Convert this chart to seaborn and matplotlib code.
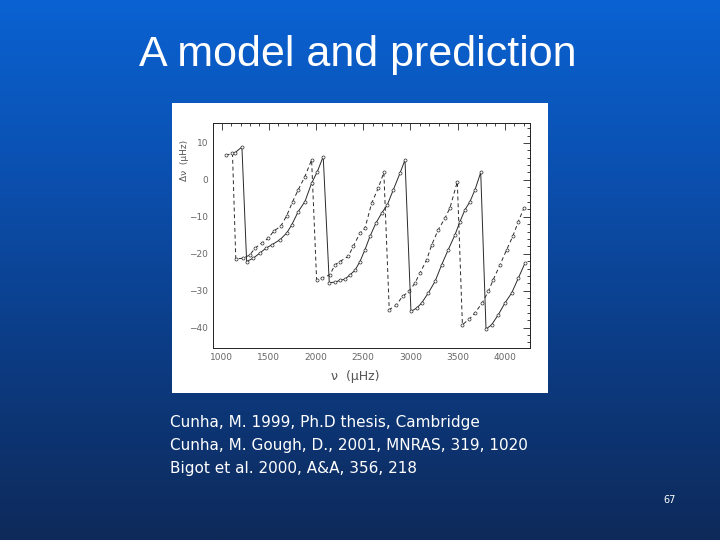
import numpy as np
import pandas as pd
import matplotlib
matplotlib.use("Agg")
import matplotlib.pyplot as plt
from matplotlib.colors import LinearSegmentedColormap
from matplotlib.ticker import MultipleLocator
import seaborn as sns

# frequencies (muHz) and frequency shifts (muHz)
freq_a = [1045, 1115, 1150, 1229, 1300, 1353, 1424, 1494, 1554, 1625, 1689, 1752, 1811, 1882, 1953,
          2006, 2059, 2147, 2200, 2253, 2341, 2394, 2465, 2518, 2589, 2659, 2718,
          2775, 2846, 2917, 2985, 3048, 3101, 3172, 3225, 3294, 3365, 3418, 3496,
          3550, 3623, 3683, 3760, 3824, 3877, 3948, 4019, 4083, 4142, 4202]
shift_a = [6.6, 7.2, -21.4, -21.2, -20.3, -18.5, -17.1, -15.8, -13.8, -12.6, -9.7, -5.9, -2.7, 0.9, 5.4,
           -27.0, -26.6, -25.7, -23.0, -22.1, -20.7, -18.0, -14.4, -13.1, -6.3, -2.2, 2.0,
           -35.1, -34.0, -31.5, -30.2, -27.9, -25.2, -21.6, -17.6, -13.5, -10.4, -7.6, -0.5,
           -39.2, -37.7, -36.0, -33.3, -30.2, -27.0, -23.0, -18.9, -15.3, -11.3, -7.6]

freq_b = [1144, 1215, 1265, 1335, 1406, 1469, 1530, 1618, 1689, 1742, 1811, 1882, 1953, 2013, 2076,
          2140, 2200, 2253, 2306, 2359, 2412, 2465, 2518, 2571, 2634, 2695, 2754, 2818, 2889, 2942,
          3005, 3066, 3119, 3189, 3260, 3330, 3400, 3471, 3524, 3577, 3630, 3683, 3744,
          3800, 3860, 3930, 4001, 4072, 4142, 4213]
shift_b = [7.4, 8.9, -22.1, -21.2, -19.8, -18.5, -17.6, -16.2, -14.4, -12.2, -8.6, -5.9, -0.9, 2.2, 6.3,
           -27.8, -27.7, -27.2, -26.9, -25.7, -24.5, -22.1, -18.9, -15.3, -11.7, -9.0, -6.8, -2.7, 1.8, 5.4,
           -35.6, -34.7, -33.3, -30.6, -27.5, -23.0, -18.9, -14.9, -11.3, -8.1, -5.9, -2.7, 2.0,
           -40.4, -39.2, -36.5, -33.3, -30.6, -26.6, -22.5]

x_ticks = [1000, 1500, 2000, 2500, 3000, 3500, 4000]
y_ticks = [10, 0, -10, -20, -30, -40]

title = "A model and prediction"
refs = ["Cunha, M. 1999, Ph.D thesis, Cambridge",
        "Cunha, M. Gough, D., 2001, MNRAS, 319, 1020",
        "Bigot et al. 2000, A&A, 356, 218"]
page = "67"

sns.set_style("white")
plt.rcParams["font.family"] = ["DejaVu Sans"]

fig = plt.figure(figsize=(7.2, 5.4), dpi=100)

# slide background gradient
bg = fig.add_axes([0, 0, 1, 1], zorder=-2)
cmap = LinearSegmentedColormap.from_list("slide", ["#0a62d2", "#0b4fae", "#0c3b82", "#0e2a5a"])
grad = np.linspace(0, 1, 256).reshape(-1, 1)
bg.imshow(grad, aspect="auto", cmap=cmap, extent=[0, 1, 0, 1])
bg.axis("off")

# white picture box
box = fig.add_axes([0.239, 0.272, 0.522, 0.537], zorder=-1)
box.set_facecolor("white")
box.set_xticks([])
box.set_yticks([])
for s in box.spines.values():
    s.set_visible(False)

fig.text(0.497, 0.898, title, color="white", fontsize=31, ha="center", va="center",
         family="Liberation Sans")

ax = fig.add_axes([0.296, 0.3556, 0.440, 0.4167])
ax.set_facecolor("none")
line_col = "#2a2a2a"
sns.lineplot(x=freq_a, y=shift_a, sort=False, estimator=None, ax=ax, color=line_col,
             linestyle=(0, (4, 3)), linewidth=0.7, marker="o", markersize=2.2,
             markerfacecolor="white", markeredgecolor=line_col, markeredgewidth=0.5)
sns.lineplot(x=freq_b, y=shift_b, sort=False, estimator=None, ax=ax, color=line_col,
             linestyle="-", linewidth=0.7, marker="o", markersize=2.2,
             markerfacecolor="white", markeredgecolor=line_col, markeredgewidth=0.5)

ax.set_xlim(910, 4265)
ax.set_ylim(-45.5, 15.4)
ax.set_xticks(x_ticks)
ax.set_yticks(y_ticks)
ax.xaxis.set_minor_locator(MultipleLocator(100))
ax.yaxis.set_minor_locator(MultipleLocator(2))
ax.tick_params(which="both", direction="in", top=True, right=True, colors="#222222",
               labelcolor="#666666", labelsize=6.5, width=0.6)
ax.tick_params(which="major", length=5)
ax.tick_params(which="minor", length=2.5)
for s in ax.spines.values():
    s.set_linewidth(0.7)
    s.set_color("#222222")
ax.set_xlabel("\u03bd  (\u03bcHz)", fontsize=9, color="#555555")
ax.set_ylabel("\u0394\u03bd  (\u03bcHz)", fontsize=6.5, color="#555555")
ax.xaxis.set_label_coords(0.45, -0.1)
ax.yaxis.set_label_coords(-0.075, 0.835)

for i, r in enumerate(refs):
    fig.text(0.236, 1 - (423 + 22.5 * i) / 540, r, color="white", fontsize=11,
             ha="left", va="center")
fig.text(0.930, 1 - 500 / 540, page, color="white", fontsize=7, ha="center", va="center")

fig.savefig("out.png", dpi=100)
